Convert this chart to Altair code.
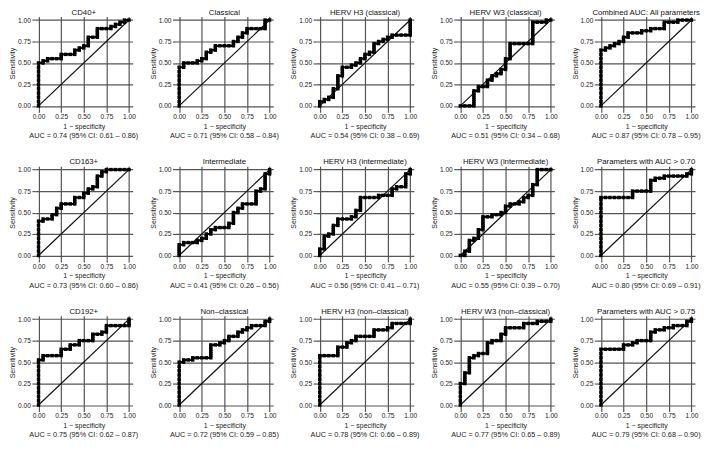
import altair as alt
import pandas as pd

TITLES = [
    "CD40+", "Classical", "HERV H3 (classical)", "HERV W3 (classical)", "Combined AUC: All parameters",
    "CD163+", "Intermediate", "HERV H3 (intermediate)", "HERV W3 (intermediate)", "Parameters with AUC > 0.70",
    "CD192+", "Non\u2013classical", "HERV H3 (non\u2013classical)", "HERV W3 (non\u2013classical)", "Parameters with AUC > 0.75",
]

AUC_TEXT = [
    "AUC = 0.74 (95% CI: 0.61 \u2013 0.86)",
    "AUC = 0.71 (95% CI: 0.58 \u2013 0.84)",
    "AUC = 0.54  (95% CI: 0.38 \u2013 0.69)",
    "AUC = 0.51 (95% CI: 0.34 \u2013 0.68)",
    "AUC = 0.87 (95% CI: 0.78 \u2013 0.95)",
    "AUC = 0.73 (95% CI:  0.60 \u2013 0.86)",
    "AUC = 0.41  (95% CI: 0.26 \u2013 0.56)",
    "AUC = 0.56 (95% CI: 0.41 \u2013 0.71)",
    "AUC  = 0.55 (95% CI: 0.39 \u2013 0.70)",
    "AUC = 0.80 (95% CI: 0.69 \u2013 0.91)",
    "AUC = 0.75 (95% CI: 0.62 \u2013 0.87)",
    "AUC = 0.72  (95% CI: 0.59 \u2013 0.85)",
    "AUC = 0.78 (95% CI: 0.66 \u2013 0.89)",
    "AUC = 0.77 (95% CI: 0.65 \u2013 0.89)",
    "AUC = 0.79 (95% CI: 0.68 \u2013 0.90)",
]

# ROC points (1 - specificity, sensitivity)
CD40 = [(0, 0), (0, 0.05), (0, 0.1), (0, 0.15), (0, 0.2), (0, 0.25), (0, 0.3), (0, 0.35), (0, 0.4), (0, 0.45),
        (0, 0.5), (0.05, 0.5), (0.05, 0.525), (0.1, 0.525),
        (0.1, 0.55), (0.15, 0.55), (0.2, 0.55), (0.25, 0.55), (0.25, 0.575), (0.25, 0.6), (0.3, 0.6), (0.35, 0.6),
        (0.4, 0.6), (0.4, 0.625), (0.4, 0.65), (0.45, 0.65), (0.45, 0.675), (0.5, 0.675), (0.5, 0.7), (0.55, 0.7),
        (0.55, 0.725), (0.55, 0.75), (0.55, 0.775), (0.55, 0.8), (0.6, 0.8), (0.65, 0.8), (0.65, 0.825),
        (0.65, 0.85), (0.65, 0.875), (0.65, 0.9), (0.7, 0.9), (0.75, 0.9), (0.8, 0.9),
        (0.8, 0.925), (0.85, 0.925), (0.85, 0.95), (0.9, 0.95), (0.9, 0.975), (0.95, 0.975), (0.95, 1.0), (1, 1)]
CLASSICAL = [(0, 0), (0, 0.05), (0, 0.1), (0, 0.15), (0, 0.2), (0, 0.25), (0, 0.3), (0, 0.35), (0, 0.4),
             (0, 0.45), (0.05, 0.45), (0.05, 0.475), (0.05, 0.5), (0.1, 0.5), (0.15, 0.5),
             (0.2, 0.5), (0.2, 0.525), (0.25, 0.525), (0.25, 0.55), (0.3, 0.55), (0.3, 0.575), (0.3, 0.6),
             (0.3, 0.625), (0.35, 0.625),
             (0.35, 0.65), (0.4, 0.65), (0.4, 0.675), (0.4, 0.7), (0.45, 0.7), (0.5, 0.7), (0.55, 0.7), (0.6, 0.7),
             (0.6, 0.725), (0.6, 0.75),
             (0.65, 0.75), (0.65, 0.775), (0.65, 0.8), (0.7, 0.8), (0.7, 0.825), (0.7, 0.85), (0.75, 0.85),
             (0.75, 0.875), (0.75, 0.9), (0.8, 0.9),
             (0.85, 0.9), (0.9, 0.9), (0.95, 0.9), (0.95, 0.925), (0.95, 0.95), (0.95, 0.975), (0.95, 1.0), (1, 1)]
H3_CLASSICAL = [(0, 0), (0, 0.025), (0, 0.05), (0.05, 0.05), (0.05, 0.075), (0.1, 0.075), (0.1, 0.1), (0.15, 0.1),
                (0.15, 0.125), (0.15, 0.15), (0.15, 0.175), (0.15, 0.2),
                (0.2, 0.2), (0.2, 0.225), (0.2, 0.25), (0.2, 0.275), (0.2, 0.3), (0.2, 0.325), (0.2, 0.35),
                (0.25, 0.35), (0.25, 0.375), (0.25, 0.4), (0.25, 0.425), (0.25, 0.45), (0.3, 0.45), (0.35, 0.45),
                (0.35, 0.475), (0.4, 0.475), (0.4, 0.5), (0.45, 0.5), (0.45, 0.525), (0.45, 0.55), (0.5, 0.55),
                (0.5, 0.575), (0.5, 0.6), (0.55, 0.6), (0.55, 0.625), (0.6, 0.625), (0.6, 0.65), (0.6, 0.675),
                (0.6, 0.7), (0.6, 0.725), (0.65, 0.725), (0.65, 0.75), (0.7, 0.75), (0.7, 0.775), (0.75, 0.775),
                (0.75, 0.8), (0.8, 0.8), (0.8, 0.825), (0.85, 0.825), (0.9, 0.825), (0.95, 0.825), (1, 0.825),
                (1, 0.85), (1, 0.875), (1, 0.9), (1, 0.925), (1, 0.95), (1, 0.975), (1, 1)]
W3_CLASSICAL = [(0, 0), (0.05, 0), (0.1, 0), (0.15, 0), (0.15, 0.025), (0.15, 0.05), (0.15, 0.075), (0.15, 0.1),
                (0.15, 0.125), (0.15, 0.15), (0.15, 0.175), (0.2, 0.175), (0.2, 0.2), (0.2, 0.225), (0.25, 0.225),
                (0.3, 0.225), (0.3, 0.25), (0.3, 0.275), (0.3, 0.3), (0.35, 0.3), (0.35, 0.325), (0.35, 0.35),
                (0.4, 0.35), (0.4, 0.375), (0.45, 0.375), (0.45, 0.4), (0.45, 0.425), (0.5, 0.425), (0.5, 0.45),
                (0.5, 0.475), (0.5, 0.5), (0.5, 0.525), (0.5, 0.55), (0.55, 0.55), (0.55, 0.575), (0.55, 0.6),
                (0.55, 0.625), (0.55, 0.65), (0.55, 0.675), (0.55, 0.7), (0.55, 0.725), (0.6, 0.725),
                (0.65, 0.725), (0.7, 0.725), (0.75, 0.725), (0.8, 0.725), (0.8, 0.75), (0.8, 0.775), (0.8, 0.8),
                (0.8, 0.825), (0.8, 0.85), (0.8, 0.875), (0.8, 0.9), (0.8, 0.925), (0.8, 0.95), (0.8, 0.975),
                (0.85, 0.975), (0.9, 0.975), (0.95, 0.975), (0.95, 1.0), (1, 1)]
COMBINED = [(0, 0), (0, 0.05), (0, 0.1), (0, 0.15), (0, 0.2), (0, 0.25), (0, 0.3), (0, 0.35), (0, 0.4),
            (0, 0.45), (0, 0.5), (0, 0.55), (0, 0.6), (0, 0.65), (0.05, 0.65), (0.05, 0.675),
            (0.1, 0.675), (0.1, 0.7), (0.15, 0.7), (0.15, 0.725), (0.2, 0.725), (0.2, 0.75), (0.25, 0.75),
            (0.25, 0.775), (0.25, 0.8), (0.3, 0.8), (0.3, 0.825), (0.3, 0.85), (0.35, 0.85), (0.4, 0.85),
            (0.45, 0.85), (0.45, 0.875), (0.5, 0.875), (0.55, 0.875), (0.55, 0.9), (0.6, 0.9), (0.65, 0.9),
            (0.7, 0.9), (0.7, 0.925), (0.7, 0.95), (0.7, 0.975),
            (0.75, 0.975), (0.8, 0.975), (0.85, 0.975), (0.85, 1.0), (0.9, 1.0), (0.95, 1.0), (1, 1)]
CD163 = [(0, 0), (0, 0.05), (0, 0.1), (0, 0.15), (0, 0.2), (0, 0.25), (0, 0.3), (0, 0.35), (0, 0.4),
         (0.05, 0.4), (0.05, 0.425), (0.1, 0.425), (0.15, 0.425), (0.15, 0.45),
         (0.15, 0.475), (0.2, 0.475), (0.2, 0.5), (0.2, 0.525), (0.2, 0.55), (0.25, 0.55), (0.25, 0.575),
         (0.25, 0.6), (0.3, 0.6), (0.35, 0.6), (0.4, 0.6), (0.4, 0.625), (0.4, 0.65),
         (0.4, 0.675), (0.45, 0.675), (0.5, 0.675), (0.5, 0.7), (0.5, 0.725), (0.55, 0.725), (0.55, 0.75),
         (0.55, 0.775), (0.6, 0.775), (0.6, 0.8), (0.65, 0.8), (0.65, 0.825), (0.65, 0.85), (0.65, 0.875),
         (0.65, 0.9), (0.65, 0.925), (0.7, 0.925), (0.7, 0.95), (0.7, 0.975), (0.75, 0.975), (0.75, 1.0),
         (0.8, 1.0), (0.85, 1.0), (0.9, 1.0), (0.95, 1.0), (1, 1)]
INTERMEDIATE = [(0, 0), (0, 0.025), (0, 0.05), (0, 0.075), (0, 0.1), (0, 0.125), (0.05, 0.125), (0.05, 0.15),
                (0.1, 0.15), (0.15, 0.15), (0.2, 0.15),
                (0.2, 0.175), (0.25, 0.175), (0.25, 0.2), (0.3, 0.2), (0.3, 0.225), (0.3, 0.25), (0.35, 0.25),
                (0.35, 0.275), (0.35, 0.3),
                (0.4, 0.3), (0.4, 0.325), (0.45, 0.325), (0.5, 0.325), (0.55, 0.325), (0.55, 0.35), (0.55, 0.375),
                (0.6, 0.375), (0.6, 0.4), (0.6, 0.425), (0.6, 0.45), (0.6, 0.475),
                (0.6, 0.5), (0.65, 0.5), (0.65, 0.525), (0.65, 0.55), (0.7, 0.55), (0.7, 0.575), (0.7, 0.6),
                (0.75, 0.6), (0.8, 0.6), (0.85, 0.6), (0.85, 0.625), (0.85, 0.65), (0.85, 0.675), (0.85, 0.7),
                (0.85, 0.725), (0.85, 0.75), (0.9, 0.75), (0.9, 0.775), (0.95, 0.775), (0.95, 0.8), (0.95, 0.825),
                (0.95, 0.85), (0.95, 0.875), (0.95, 0.9), (0.95, 0.925), (0.95, 0.95), (1, 0.95), (1, 0.975), (1, 1)]
H3_INTERMEDIATE = [(0, 0), (0, 0.025), (0, 0.05), (0, 0.075), (0.05, 0.075), (0.05, 0.1), (0.05, 0.125),
                   (0.05, 0.15), (0.05, 0.175), (0.05, 0.2), (0.05, 0.225), (0.1, 0.225), (0.1, 0.25), (0.15, 0.25),
                   (0.15, 0.275), (0.15, 0.3), (0.15, 0.325), (0.15, 0.35), (0.2, 0.35), (0.2, 0.375), (0.2, 0.4),
                   (0.2, 0.425), (0.25, 0.425), (0.3, 0.425), (0.35, 0.425),
                   (0.35, 0.45), (0.4, 0.45), (0.4, 0.475), (0.4, 0.5), (0.4, 0.525), (0.45, 0.525), (0.45, 0.55),
                   (0.45, 0.575), (0.45, 0.6), (0.45, 0.625), (0.45, 0.65), (0.45, 0.675), (0.5, 0.675),
                   (0.55, 0.675), (0.6, 0.675), (0.65, 0.675), (0.65, 0.7), (0.7, 0.7), (0.75, 0.7), (0.8, 0.7),
                   (0.8, 0.725), (0.8, 0.75), (0.8, 0.775), (0.85, 0.775), (0.85, 0.8), (0.9, 0.8), (0.95, 0.8),
                   (0.95, 0.825), (0.95, 0.85), (0.95, 0.875), (0.95, 0.9), (0.95, 0.925), (0.95, 0.95), (1, 0.95),
                   (1, 0.975), (1, 1)]
W3_INTERMEDIATE = [(0, 0), (0.05, 0), (0.05, 0.025), (0.05, 0.05), (0.1, 0.05), (0.1, 0.075), (0.1, 0.1),
                   (0.1, 0.125), (0.1, 0.15), (0.1, 0.175), (0.15, 0.175), (0.15, 0.2),
                   (0.2, 0.2), (0.2, 0.225), (0.2, 0.25), (0.2, 0.275), (0.2, 0.3), (0.25, 0.3), (0.25, 0.325),
                   (0.25, 0.35), (0.25, 0.375), (0.25, 0.4), (0.25, 0.425), (0.25, 0.45), (0.3, 0.45), (0.35, 0.45),
                   (0.35, 0.475), (0.4, 0.475), (0.45, 0.475), (0.45, 0.5), (0.5, 0.5), (0.5, 0.525), (0.5, 0.55),
                   (0.5, 0.575), (0.55, 0.575), (0.55, 0.6),
                   (0.6, 0.6), (0.65, 0.6), (0.65, 0.625), (0.7, 0.625), (0.7, 0.65), (0.7, 0.675), (0.75, 0.675),
                   (0.75, 0.7), (0.8, 0.7), (0.8, 0.725), (0.8, 0.75), (0.8, 0.775), (0.8, 0.8), (0.8, 0.825),
                   (0.85, 0.825), (0.85, 0.85), (0.85, 0.875), (0.85, 0.9), (0.85, 0.925), (0.85, 0.95),
                   (0.85, 0.975), (0.85, 1.0), (0.9, 1.0), (0.95, 1.0), (1, 1)]
AUC70 = [(0, 0), (0, 0.05), (0, 0.1), (0, 0.15), (0, 0.2), (0, 0.25), (0, 0.3), (0, 0.35), (0, 0.4), (0, 0.45),
         (0, 0.5), (0, 0.55), (0, 0.6), (0, 0.65), (0, 0.675), (0.05, 0.675), (0.1, 0.675),
         (0.15, 0.675), (0.2, 0.675), (0.25, 0.675), (0.3, 0.675), (0.35, 0.675), (0.35, 0.7), (0.35, 0.725),
         (0.35, 0.75), (0.4, 0.75), (0.45, 0.75), (0.5, 0.75), (0.55, 0.75), (0.55, 0.775), (0.55, 0.8),
         (0.55, 0.825), (0.55, 0.85), (0.55, 0.875), (0.6, 0.875), (0.6, 0.9), (0.65, 0.9),
         (0.7, 0.9), (0.7, 0.925), (0.75, 0.925), (0.8, 0.925), (0.85, 0.925), (0.9, 0.925), (0.95, 0.925),
         (0.95, 0.95), (1, 0.95), (1, 0.975), (1, 1)]
CD192 = [(0, 0), (0, 0.05), (0, 0.1), (0, 0.15), (0, 0.2), (0, 0.25), (0, 0.3), (0, 0.35), (0, 0.4), (0, 0.45),
         (0, 0.5), (0, 0.525), (0.05, 0.525), (0.05, 0.55), (0.05, 0.575), (0.1, 0.575),
         (0.15, 0.575), (0.2, 0.575), (0.25, 0.575), (0.25, 0.6), (0.25, 0.625), (0.25, 0.65), (0.3, 0.65),
         (0.35, 0.65), (0.35, 0.675), (0.35, 0.7),
         (0.4, 0.7), (0.45, 0.7), (0.45, 0.725), (0.45, 0.75), (0.5, 0.75), (0.55, 0.75), (0.6, 0.75),
         (0.6, 0.775), (0.6, 0.8), (0.6, 0.825),
         (0.65, 0.825), (0.7, 0.825), (0.7, 0.85), (0.75, 0.85), (0.75, 0.875), (0.75, 0.9), (0.75, 0.925),
         (0.8, 0.925), (0.85, 0.925), (0.9, 0.925), (0.95, 0.925), (1, 0.925), (1, 0.95), (1, 0.975), (1, 1)]
NONCLASSICAL = [(0, 0), (0, 0.05), (0, 0.1), (0, 0.15), (0, 0.2), (0, 0.25), (0, 0.3), (0, 0.35), (0, 0.4),
                (0, 0.45), (0, 0.5), (0.05, 0.5), (0.05, 0.525), (0.1, 0.525),
                (0.15, 0.525), (0.15, 0.55), (0.2, 0.55), (0.25, 0.55), (0.3, 0.55), (0.35, 0.55), (0.35, 0.575),
                (0.35, 0.6), (0.35, 0.625), (0.35, 0.65), (0.35, 0.675), (0.35, 0.7),
                (0.4, 0.7), (0.45, 0.7), (0.45, 0.725), (0.5, 0.725), (0.5, 0.75), (0.55, 0.75), (0.55, 0.775),
                (0.55, 0.8), (0.6, 0.8), (0.65, 0.8), (0.65, 0.825), (0.65, 0.85), (0.7, 0.85), (0.7, 0.875),
                (0.75, 0.875), (0.75, 0.9), (0.8, 0.9), (0.8, 0.925), (0.85, 0.925), (0.9, 0.925), (0.95, 0.925),
                (0.95, 0.95), (0.95, 0.975), (1, 0.975), (1, 1)]
H3_NONCLASSICAL = [(0, 0), (0, 0.05), (0, 0.1), (0, 0.15), (0, 0.2), (0, 0.25), (0, 0.3), (0, 0.35), (0, 0.4),
                   (0, 0.45), (0, 0.5), (0, 0.55), (0, 0.575), (0.05, 0.575), (0.1, 0.575),
                   (0.15, 0.575), (0.2, 0.575), (0.2, 0.6), (0.2, 0.625), (0.2, 0.65), (0.2, 0.675), (0.25, 0.675),
                   (0.3, 0.675), (0.3, 0.7), (0.3, 0.725),
                   (0.35, 0.725), (0.35, 0.75), (0.4, 0.75), (0.4, 0.775), (0.4, 0.8), (0.45, 0.8), (0.5, 0.8),
                   (0.55, 0.8), (0.6, 0.8), (0.6, 0.825), (0.6, 0.85), (0.6, 0.875), (0.65, 0.875), (0.7, 0.875),
                   (0.75, 0.875), (0.75, 0.9), (0.8, 0.9), (0.8, 0.925),
                   (0.8, 0.95), (0.85, 0.95), (0.9, 0.95), (0.95, 0.95), (1, 0.95), (1, 0.975), (1, 1)]
W3_NONCLASSICAL = [(0, 0), (0, 0.05), (0, 0.1), (0, 0.15), (0, 0.2), (0, 0.25), (0.05, 0.25), (0.05, 0.275),
                   (0.05, 0.3), (0.05, 0.325), (0.05, 0.35), (0.05, 0.375), (0.1, 0.375), (0.1, 0.4), (0.1, 0.425),
                   (0.1, 0.45), (0.1, 0.475), (0.1, 0.5), (0.1, 0.525), (0.1, 0.55),
                   (0.15, 0.55), (0.15, 0.575), (0.2, 0.575), (0.2, 0.6), (0.25, 0.6), (0.3, 0.6), (0.3, 0.625),
                   (0.3, 0.65), (0.3, 0.675), (0.3, 0.7), (0.3, 0.725),
                   (0.35, 0.725), (0.35, 0.75), (0.4, 0.75), (0.45, 0.75), (0.45, 0.775), (0.45, 0.8),
                   (0.45, 0.825), (0.5, 0.825), (0.5, 0.85), (0.5, 0.875), (0.5, 0.9),
                   (0.55, 0.9), (0.6, 0.9), (0.65, 0.9), (0.7, 0.9), (0.7, 0.925), (0.7, 0.95), (0.75, 0.95),
                   (0.8, 0.95), (0.85, 0.95), (0.85, 0.975), (0.9, 0.975), (0.95, 0.975), (1, 0.975), (1, 1)]
AUC75 = [(0, 0), (0, 0.05), (0, 0.1), (0, 0.15), (0, 0.2), (0, 0.25), (0, 0.3), (0, 0.35), (0, 0.4), (0, 0.45),
         (0, 0.5), (0, 0.55), (0, 0.6), (0, 0.65), (0.05, 0.65), (0.1, 0.65),
         (0.15, 0.65), (0.2, 0.65), (0.25, 0.65), (0.25, 0.675), (0.25, 0.7), (0.3, 0.7), (0.35, 0.7),
         (0.35, 0.725), (0.4, 0.725), (0.4, 0.75), (0.45, 0.75), (0.5, 0.75), (0.55, 0.75), (0.55, 0.775),
         (0.55, 0.8), (0.55, 0.825), (0.55, 0.85), (0.6, 0.85),
         (0.6, 0.875), (0.65, 0.875), (0.7, 0.875), (0.7, 0.9), (0.75, 0.9), (0.8, 0.9), (0.8, 0.925),
         (0.85, 0.925), (0.9, 0.925), (0.95, 0.925), (0.95, 0.95), (0.95, 0.975), (1, 0.975), (1, 1)]

CURVES = [CD40, CLASSICAL, H3_CLASSICAL, W3_CLASSICAL, COMBINED,
          CD163, INTERMEDIATE, H3_INTERMEDIATE, W3_INTERMEDIATE, AUC70,
          CD192, NONCLASSICAL, H3_NONCLASSICAL, W3_NONCLASSICAL, AUC75]

DIAG_X = [0, 1]
DIAG_Y = [0, 1]
TICKS = [0, 0.25, 0.5, 0.75, 1]

W = 98
H = 93
FONT = "Liberation Sans"


def panel(title, pts, auc):
    df = pd.DataFrame(pts, columns=["fpr", "tpr"])
    df["i"] = range(len(df))
    diag = pd.DataFrame({"fpr": DIAG_X, "tpr": DIAG_Y})
    xenc = alt.X("fpr:Q", scale=alt.Scale(domain=[-0.04, 1.04], nice=False, zero=False),
                 axis=alt.Axis(values=TICKS, format=".2f", title="1 \u2212 specificity"))
    yenc = alt.Y("tpr:Q", scale=alt.Scale(domain=[-0.04, 1.04], nice=False, zero=False),
                 axis=alt.Axis(values=TICKS, format=".2f", title="Sensitivity"))
    d = alt.Chart(diag).mark_line(color="#111", strokeWidth=1.2).encode(x=xenc, y=yenc)
    line = alt.Chart(df).mark_line(color="#000", strokeWidth=2.2).encode(x=xenc, y=yenc, order="i:Q")
    pts_layer = alt.Chart(df).mark_square(color="#000", size=12, opacity=1).encode(x=xenc, y=yenc)
    ttl = alt.Chart(pd.DataFrame({"t": [title]})).mark_text(
        fontSize=7.8, font=FONT, color="#111", baseline="alphabetic", align="center"
    ).encode(x=alt.value(W / 2), y=alt.value(-2), text="t:N")
    txt = alt.Chart(pd.DataFrame({"t": [auc]})).mark_text(
        fontSize=7.3, font=FONT, color="#222", baseline="middle", align="center"
    ).encode(x=alt.value(W / 2), y=alt.value(H + 27), text="t:N")
    return alt.layer(d, line, pts_layer, ttl, txt).properties(width=W, height=H)


rows = []
for r in range(3):
    rows.append(alt.hconcat(*[panel(TITLES[r * 5 + c], CURVES[r * 5 + c], AUC_TEXT[r * 5 + c])
                              for c in range(5)], spacing=141 - W, bounds="flush"))

chart = alt.vconcat(*rows, spacing=18).properties(padding=0).configure_view(
    stroke=None
).configure_axis(
    grid=True, gridColor="#555", gridWidth=1.2, tickColor="#555", tickSize=3, tickWidth=1.2, domain=False,
    labelFont=FONT, titleFont=FONT, labelFontSize=6.6, titleFontSize=7, titleFontWeight="normal",
    labelColor="#222", titleColor="#222", labelPadding=1.5, titlePadding=2
)

chart.save("out.html", embed_options={"renderer": "svg", "actions": False})
